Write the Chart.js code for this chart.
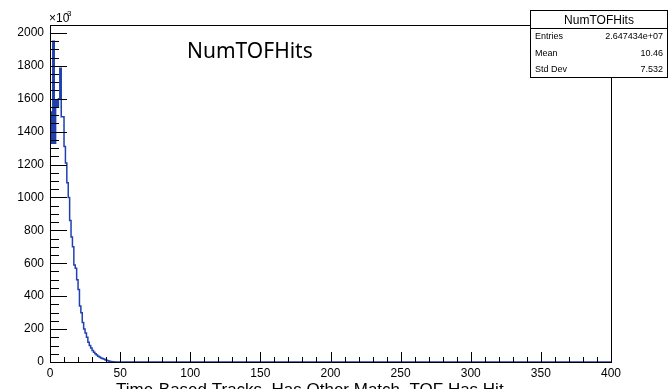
<!DOCTYPE html>
<html>
<head>
<meta charset="utf-8">
<script src="https://cdn.jsdelivr.net/npm/chart.js@4"></script>
<style>
  html, body { margin: 0; padding: 0; background: #fff; }
  #c { display: block; }
</style>
</head>
<body>
<canvas id="c" width="669" height="389"></canvas>
<script>
// histogram NumTOFHits, 400 bins 0..400, counts in units of 10^3
var binCounts = [480, 1520, 1330, 1950, 1330, 1590, 1550, 1600, 1785, 1490,
                 1490, 1310, 1210, 1090, 1000, 860, 760, 700, 590, 570,
                 500, 440, 340, 300, 240, 200, 176, 150, 120, 100,
                 85, 70, 60, 50, 42, 35, 30, 25, 22, 18,
                 14, 11, 8, 5, 3, 2, 1];
var nBins = 400;
var xTicks = [0, 50, 100, 150, 200, 250, 300, 350, 400];
var yTicks = [0, 200, 400, 600, 800, 1000, 1200, 1400, 1600, 1800, 2000];
var statLabels = ['Entries', 'Mean', 'Std Dev'];
var statValues = ['2.647434e+07', '10.46', '7.532'];
var histName = 'NumTOFHits';
var xTitle = 'Time-Based Tracks, Has Other Match, TOF Has Hit';

var points = [{x: 0, y: 0}];
for (var i = 0; i < nBins; i++) {
  points.push({x: i, y: i < binCounts.length ? binCounts[i] : 0});
}
points.push({x: nBins, y: 0});

var sans = '"Liberation Sans", Arial, sans-serif';

var rootFrame = {
  id: 'rootFrame',
  afterDatasetsDraw: function (chart) {
    var ctx = chart.ctx, a = chart.chartArea;
    var xs = chart.scales.x, ys = chart.scales.y;
    ctx.save();
    ctx.strokeStyle = '#000';
    ctx.lineWidth = 1;
    // frame
    ctx.beginPath();
    ctx.moveTo(a.left + 0.5, a.top + 0.5);
    ctx.lineTo(530, a.top + 0.5);
    ctx.moveTo(a.right + 0.5, 78);
    ctx.lineTo(a.right + 0.5, a.bottom + 0.5);
    ctx.moveTo(a.left + 0.5, a.top);
    ctx.lineTo(a.left + 0.5, a.bottom + 0.5);
    ctx.lineTo(a.right + 1, a.bottom + 0.5);
    ctx.stroke();
    // inward ticks, x axis
    ctx.beginPath();
    for (var v = 0; v <= 400; v += 10) {
      var px = Math.round(xs.getPixelForValue(v)) + 0.5;
      var len = (v % 50 === 0) ? 10 : 5;
      ctx.moveTo(px, a.bottom);
      ctx.lineTo(px, a.bottom - len);
    }
    // inward ticks, y axis
    for (var w = 0; w <= 2000; w += 50) {
      var py = Math.round(ys.getPixelForValue(w)) + 0.5;
      var l2 = (w % 200 === 0) ? 17 : 9;
      ctx.moveTo(a.left, py);
      ctx.lineTo(a.left + l2, py);
    }
    ctx.stroke();

    // exponent label
    ctx.fillStyle = '#000';
    ctx.font = '12px ' + sans;
    ctx.textBaseline = 'alphabetic';
    ctx.textAlign = 'left';
    ctx.fillText('\u00d710', 49, 22);
    ctx.font = '8px ' + sans;
    ctx.fillText('3', 67, 16);

    // histogram title
    ctx.font = '21px "Noto Sans", sans-serif';
    ctx.fillText(histName, 187, 58);

    // x axis title
    ctx.font = '17px ' + sans;
    ctx.fillText(xTitle, 116, 395);

    // stats box
    ctx.fillStyle = '#fff';
    ctx.fillRect(530, 10, 139, 68);
    ctx.strokeRect(530.5, 10.5, 137, 67);
    ctx.beginPath();
    ctx.moveTo(530, 28.5);
    ctx.lineTo(668, 28.5);
    ctx.stroke();
    ctx.fillStyle = '#000';
    ctx.font = '12px ' + sans;
    ctx.textAlign = 'center';
    ctx.fillText(histName, 599, 24);
    ctx.font = '9px ' + sans;
    for (var k = 0; k < statLabels.length; k++) {
      var by = 39 + k * 16.5;
      ctx.textAlign = 'left';
      ctx.fillText(statLabels[k], 535, by);
      ctx.textAlign = 'right';
      ctx.fillText(statValues[k], 663, by);
    }
    ctx.restore();
  }
};

new Chart(document.getElementById('c'), {
  type: 'line',
  data: {
    datasets: [{
      label: histName,
      data: points,
      stepped: 'after',
      borderColor: '#2040b0',
      borderWidth: 1.5,
      pointRadius: 0,
      fill: false
    }]
  },
  options: {
    responsive: false,
    animation: false,
    layout: { padding: { top: 25, right: 58, left: 0, bottom: 0 } },
    plugins: { legend: { display: false }, tooltip: { enabled: false } },
    scales: {
      x: {
        type: 'linear',
        min: 0,
        max: 400,
        afterFit: function (s) { s.height = 27; },
        afterBuildTicks: function (s) { s.ticks = xTicks.map(function (v) { return {value: v}; }); },
        grid: { display: false, drawTicks: false },
        border: { display: false },
        ticks: { color: '#000', padding: 4, maxRotation: 0, autoSkip: false,
                 callback: function (v) { return String(v); },
                 font: { family: sans, size: 12 } }
      },
      y: {
        type: 'linear',
        min: 0,
        max: 2048,
        afterFit: function (s) { s.width = 50; },
        afterBuildTicks: function (s) { s.ticks = yTicks.map(function (v) { return {value: v}; }); },
        grid: { display: false, drawTicks: false },
        border: { display: false },
        ticks: { color: '#000', padding: 6, autoSkip: false,
                 callback: function (v) { return String(v); },
                 font: { family: sans, size: 12 } }
      }
    }
  },
  plugins: [rootFrame]
});
</script>
</body>
</html>
